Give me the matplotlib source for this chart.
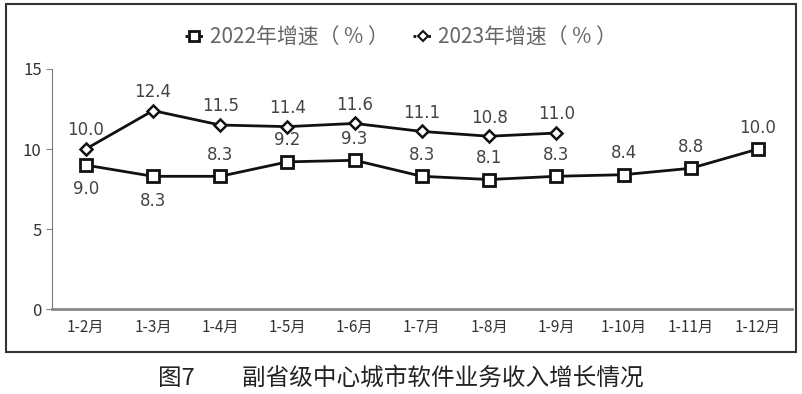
import matplotlib.pyplot as plt
from matplotlib.lines import Line2D
from matplotlib.patches import Rectangle

plt.rcParams['font.family'] = ['Noto Sans CJK SC', 'DejaVu Sans']

months = ['1-2月', '1-3月', '1-4月', '1-5月', '1-6月', '1-7月',
          '1-8月', '1-9月', '1-10月', '1-11月', '1-12月']
growth_2022 = [9.0, 8.3, 8.3, 9.2, 9.3, 8.3, 8.1, 8.3, 8.4, 8.8, 10.0]
growth_2023 = [10.0, 12.4, 11.5, 11.4, 11.6, 11.1, 10.8, 11.0]
# label placement for 2022: below for first two points
below_2022 = [True, True] + [False] * 9

fig = plt.figure(figsize=(8.02, 3.94), dpi=100)
ax = fig.add_axes([0.065, 0.215, 0.922, 0.61])

x22 = list(range(len(growth_2022)))
x23 = list(range(len(growth_2023)))

ax.plot(x22, growth_2022, color='#111111', lw=2, marker='s', ms=8,
        mfc='white', mec='#111111', mew=2, zorder=3)
ax.plot(x23, growth_2023, color='#111111', lw=2, marker='D', ms=6,
        mfc='white', mec='#111111', mew=1.8, zorder=3)

lab_col = '#444444'
for x, v, b in zip(x22, growth_2022, below_2022):
    off = -11 if b else 9
    ax.annotate(f'{v:.1f}', (x, v), xytext=(0, off), textcoords='offset points',
                ha='center', va='top' if b else 'bottom', fontsize=12,
                color=lab_col, family='DejaVu Sans')
for x, v in zip(x23, growth_2023):
    ax.annotate(f'{v:.1f}', (x, v), xytext=(0, 7), textcoords='offset points',
                ha='center', va='bottom', fontsize=12,
                color=lab_col, family='DejaVu Sans')

ax.set_xlim(-0.5, len(months) - 0.5)
ax.set_ylim(0, 15)
ax.set_yticks([0, 5, 10, 15])
ax.set_xticks(x22)
ax.set_xticklabels(months, fontsize=11, color='#333333')
ax.tick_params(axis='y', labelsize=12, colors='#333333', length=4, color='#888888')
ax.tick_params(axis='x', length=0, pad=7)
for s in ['top', 'right']:
    ax.spines[s].set_visible(False)
ax.spines['left'].set_color('#777777')
ax.spines['bottom'].set_color('#888888')
ax.spines['bottom'].set_linewidth(2)

handles = [
    Line2D([], [], color='#111111', lw=2, ls=':', marker='s', ms=7,
           mfc='white', mec='#111111', mew=2),
    Line2D([], [], color='#111111', lw=2, ls=':', marker='D', ms=5,
           mfc='white', mec='#111111', mew=1.5),
]
fig.legend(handles, ['2022年增速（ % ）', '2023年增速（ % ）'], loc='center',
           bbox_to_anchor=(0.5, 0.905), ncol=2, frameon=False, fontsize=15,
           labelcolor='#666666', handlelength=0.9, handletextpad=0.3,
           columnspacing=1.2)

fig.patches.append(Rectangle((0.007, 0.107), 0.985, 0.882, transform=fig.transFigure,
                             fill=False, edgecolor='#333333', lw=1.5))

fig.text(0.5, 0.04, '图7\u3000\u3000副省级中心城市软件业务收入增长情况', ha='center',
         va='center', fontsize=17, color='#222222')

fig.savefig('out.png', dpi=100)
